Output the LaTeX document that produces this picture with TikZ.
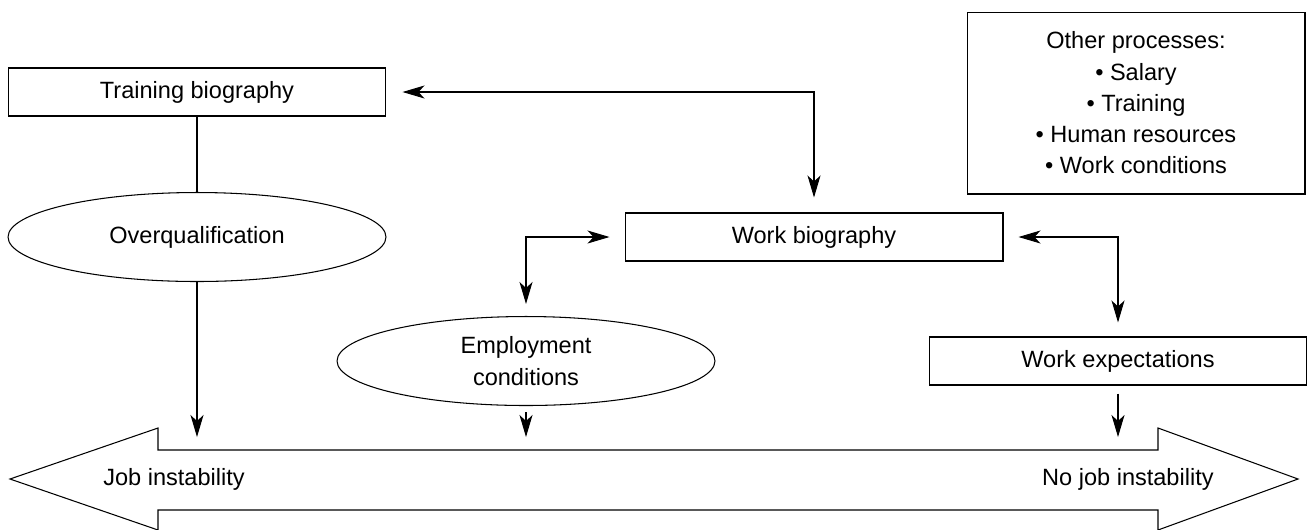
\documentclass[tikz,border=0pt]{standalone}
\usepackage{fontspec}
\setmainfont{Liberation Sans}
\usetikzlibrary{arrows.meta}
\usetikzlibrary{shapes.geometric}

\tikzset{
  stage/.style={draw, minimum width=7.56cm, minimum height=0.96cm, inner sep=0pt},
  factor/.style={ellipse, draw, minimum width=7.56cm, minimum height=1.78cm, inner sep=0pt, align=center},
  note/.style={draw, minimum width=6.76cm, minimum height=3.64cm, inner sep=0pt, align=center}
}

\begin{document}
\begin{tikzpicture}[x=0.02cm, y=-0.02cm, line width=0.6pt,
  >={Stealth[length=0.44cm,width=0.26cm,inset=0.12cm]},
  font=\fontsize{13.4}{17.8}\selectfont]
 \useasboundingbox (0,0) rectangle (1307,529);
 % boxes and ovals
 \node [stage] (trainbio) at (197,92) {Training biography};
 \node [factor] (overq) at (197,237) {Overqualification};
 \node [stage] (workbio) at (814,237) {Work biography};
 \node [factor] (employ) at (526,361) {Employment\\conditions};
 \node [stage] (expect) at (1118,361) {Work expectations};
 \node [note] (other) at (1136,103) {\baselineskip=17.6pt Other processes:\\ \textbullet\ Salary\\ \textbullet\ Training\\ \textbullet\ Human resources\\ \textbullet\ Work conditions};
 % double arrow
 \coordinate (stemtop) at (0,450);
 \draw (10,479) -- (158,428) -- (158,450) -- (1158,450) -- (1158,428) -- (1298,479)
   -- (1158,530) -- (1158,510) -- (158,510) -- (158,530) -- cycle;
 \node [anchor=west] (instab) at (97,479) {Job instability};
 \node [anchor=east] (noinstab) at (1220,479) {No job instability};
 % links
 \draw (trainbio.south) -- (overq.north);
 \draw [<->, shorten <=0.32cm, shorten >=0.3cm] (trainbio.east) -| (workbio.north);
 \draw [<->, shorten <=0.3cm, shorten >=0.24cm] (workbio.west) -| (employ.north);
 \draw [<->, shorten <=0.3cm, shorten >=0.28cm] (workbio.east) -| (expect.north);
 \draw [->, shorten >=0.26cm] (overq.south) -- (overq.south |- stemtop);
 \draw [->, shorten <=0.12cm, shorten >=0.26cm] (employ.south) -- (employ.south |- stemtop);
 \draw [->, shorten <=0.16cm, shorten >=0.26cm] (expect.south) -- (expect.south |- stemtop);
\end{tikzpicture}
\end{document}
